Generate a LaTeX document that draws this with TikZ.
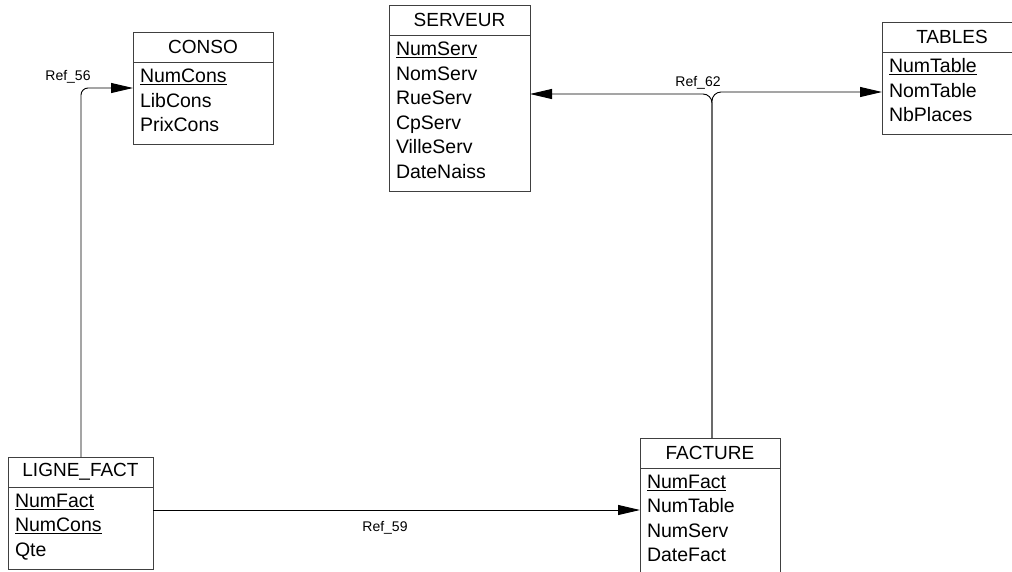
\documentclass[tikz,border=0pt]{standalone}
\usepackage{fontspec}
\setmainfont{Liberation Sans}
\usetikzlibrary{arrows.meta, positioning}

\begin{document}
\begin{tikzpicture}[
    x=1pt, y=-1pt,
    node distance=0pt,
    head/.style={rectangle, draw=black!75, line width=0.9pt, anchor=north west, minimum height=30pt, inner sep=0pt, outer sep=0pt, font=\fontsize{19}{22}\selectfont},
    body/.style={rectangle, draw=black!75, line width=0.9pt, align=left, inner xsep=7pt, inner ysep=0pt, outer sep=0pt, font=\fontsize{19.5}{24.5}\selectfont, execute at end node={\rule[-6pt]{0pt}{6pt}}},
    fk/.style={-{Triangle[length=22pt, width=10pt]}, line width=0.9pt},
    reflabel/.style={anchor=base, inner sep=0pt, font=\fontsize{14}{16}\selectfont}
]
\useasboundingbox (0,0) rectangle (1012,571);

\node[head, minimum width=140pt] (consohead) at (133,32) {CONSO};
\node[body, below=of consohead, text width=126pt, minimum height=82.5pt] (conso) {\underline{NumCons}\\LibCons\\PrixCons};

\node[head, minimum width=141pt] (serveurhead) at (389,5) {SERVEUR};
\node[body, below=of serveurhead, text width=127pt, minimum height=156pt] (serveur) {\underline{NumServ}\\NomServ\\RueServ\\CpServ\\VilleServ\\DateNaiss};

\node[head, minimum width=140pt] (tableshead) at (882,22) {TABLES};
\node[body, below=of tableshead, text width=126pt, minimum height=82.5pt] (tables) {\underline{NumTable}\\NomTable\\NbPlaces};

\node[head, minimum width=145pt] (lignehead) at (8,457) {LIGNE\_FACT};
\node[body, below=of lignehead, text width=131pt, minimum height=82.5pt] (lignefact) {\underline{NumFact}\\\underline{NumCons}\\Qte};

\node[head, minimum width=140pt] (facturehead) at (640,438) {FACTURE};
\node[body, below=of facturehead, text width=126pt, minimum height=107pt] (facture) {\underline{NumFact}\\NumTable\\NumServ\\DateFact};

\coordinate (c56) at (81,88);
\coordinate (c59) at (0,510);
\coordinate (c62l) at (712,94);
\coordinate (c62r) at (712,92);

\draw[fk, rounded corners=7pt] (lignehead.north -| c56) |- (conso.west |- c56);
\draw[fk] (lignefact.east |- c59) -- (facture.west |- c59);
\draw[fk, rounded corners=9pt] (facturehead.north -| c62l) |- (serveur.east |- c62l);
\draw[fk, rounded corners=9pt] (facturehead.north -| c62r) |- (tables.west |- c62r);

\node[reflabel] (ref56) at (68,80) {Ref\_56};
\node[reflabel] (ref59) at (385,531.5) {Ref\_59};
\node[reflabel] (ref62) at (698,86.5) {Ref\_62};
\end{tikzpicture}
\end{document}
